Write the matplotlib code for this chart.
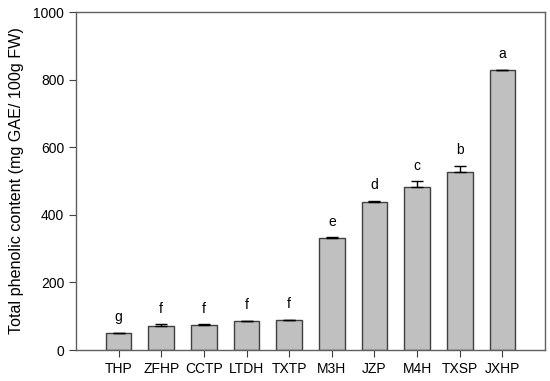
import matplotlib
matplotlib.use("Agg")
import matplotlib.pyplot as plt

categories = ["THP", "ZFHP", "CCTP", "LTDH", "TXTP", "M3H", "JZP", "M4H", "TXSP", "JXHP"]
values = [50, 72, 75, 85, 88, 331, 439, 483, 528, 827]
errors = [1, 4, 1, 2, 2, 2, 3, 17, 17, 2]
letters = ["g", "f", "f", "f", "f", "e", "d", "c", "b", "a"]

plt.rcParams['font.family'] = ['Liberation Sans', 'DejaVu Sans']

fig = plt.figure(figsize=(5.5, 3.81), dpi=100)
fig.patch.set_facecolor("white")
ax = fig.add_axes([76/550, 1-350/381, (545-76)/550, (350-12)/381])

x = list(range(len(categories)))
ax.bar(x, values, width=0.6, color="#c0c0c0", edgecolor="#404040", linewidth=1.0, zorder=2)
ax.errorbar(x, values, yerr=[[0]*len(errors), errors], fmt="none", ecolor="black",
            elinewidth=1.0, capsize=4, capthick=1.0, zorder=3)
for xi, v, e, l in zip(x, values, errors, letters):
    ax.annotate(l, (xi, v + e), xytext=(0, 6), textcoords="offset points",
                ha="center", va="bottom", fontsize=10)

ax.set_xlim(-1, 10)
ax.set_ylim(0, 1000)
ax.set_yticks([0, 200, 400, 600, 800, 1000])
ax.set_xticks(x)
ax.set_xticklabels(categories, fontsize=10)
ax.tick_params(axis="y", labelsize=10, direction="out", length=5, color="#404040")
ax.tick_params(axis="x", direction="out", length=5, color="#404040")
ax.set_ylabel("Total phenolic content (mg GAE/ 100g FW)", fontsize=11.6, labelpad=7)
for s in ax.spines.values():
    s.set_color("#606060")
    s.set_linewidth(1.0)

fig.savefig("out.png", dpi=100)
